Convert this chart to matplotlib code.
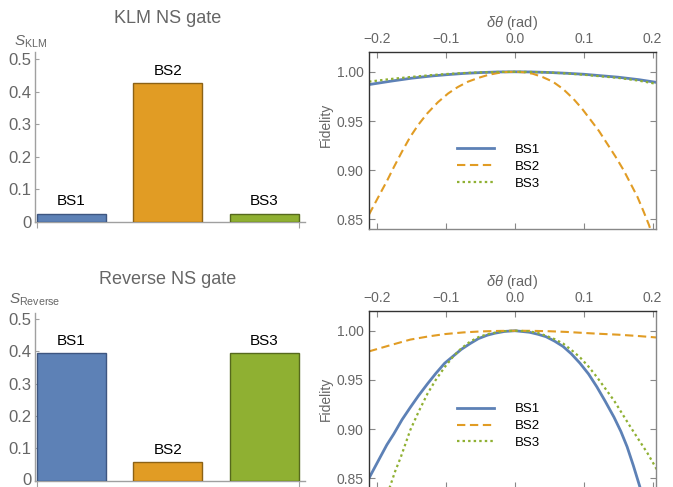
import matplotlib
matplotlib.use("Agg")
import matplotlib.pyplot as plt
from matplotlib.ticker import FixedLocator, FixedFormatter

plt.rcParams['font.family'] = ['Liberation Sans', 'DejaVu Sans']
plt.rcParams['mathtext.fontset'] = 'custom'
plt.rcParams['mathtext.rm'] = 'Liberation Sans'
plt.rcParams['mathtext.it'] = 'Liberation Sans:italic'
plt.rcParams['mathtext.bf'] = 'Liberation Sans:bold'

# ---------------- data ----------------
categories = ["BS1", "BS2", "BS3"]
s_klm = [0.025, 0.426, 0.025]
s_reverse = [0.394, 0.057, 0.394]

bar_yticks = [0, 0.1, 0.2, 0.3, 0.4, 0.5]
bar_yticklabels = ["0", "0.1", "0.2", "0.3", "0.4", "0.5"]
fid_xticks = [-0.2, -0.1, 0.0, 0.1, 0.2]
fid_xticklabels = ["\u22120.2", "\u22120.1", "0.0", "0.1", "0.2"]
fid_yticks = [0.85, 0.90, 0.95, 1.00]
fid_yticklabels = ["0.85", "0.90", "0.95", "1.00"]

# KLM gate fidelity curves
klm_bs1_x = [-0.212, -0.18, -0.15, -0.12, -0.1, -0.075, -0.05, -0.025, 0.0,
             0.025, 0.05, 0.075, 0.1, 0.12, 0.15, 0.18, 0.205]
klm_bs1_y = [0.987, 0.9905, 0.9935, 0.9958, 0.997, 0.9983, 0.9992, 0.9998, 1.0,
             0.9998, 0.9993, 0.9985, 0.9975, 0.9963, 0.9945, 0.992, 0.9893]
klm_bs3_x = [-0.212, -0.18, -0.15, -0.12, -0.1, -0.075, -0.05, -0.025, 0.0,
             0.025, 0.05, 0.075, 0.1, 0.12, 0.15, 0.18, 0.205]
klm_bs3_y = [0.990, 0.9927, 0.9948, 0.9967, 0.9977, 0.9987, 0.9994, 0.9998, 1.0,
             0.9998, 0.9993, 0.9983, 0.997, 0.9957, 0.9938, 0.991, 0.9878]
klm_bs2_x = [-0.212, -0.204, -0.196, -0.186, -0.176, -0.164, -0.152, -0.14, -0.127, -0.112,
             -0.097, -0.083, -0.068, -0.053, -0.038, -0.025, -0.014, 0.0,
             0.013, 0.026, 0.04, 0.055, 0.07, 0.085, 0.097, 0.109, 0.122, 0.134,
             0.146, 0.158, 0.168, 0.178, 0.187, 0.195, 0.205]
klm_bs2_y = [0.855, 0.8655, 0.876, 0.889, 0.903, 0.919, 0.934, 0.9465, 0.958, 0.969,
             0.978, 0.9845, 0.990, 0.9938, 0.997, 0.9987, 0.9997, 1.0,
             0.9995, 0.998, 0.9947, 0.990, 0.9825, 0.9725, 0.963, 0.952, 0.940, 0.927,
             0.914, 0.900, 0.8865, 0.873, 0.858, 0.844, 0.822]

# Reverse gate fidelity curves
rev_bs1_x = [-0.212, -0.204, -0.196, -0.186, -0.176, -0.164, -0.152, -0.14, -0.127, -0.115,
             -0.102, -0.09, -0.078, -0.065, -0.053, -0.04, -0.029, -0.015, 0.0,
             0.021, 0.033, 0.045, 0.0575, 0.070, 0.082, 0.0945, 0.107, 0.119, 0.131,
             0.144, 0.154, 0.163, 0.172, 0.181, 0.19]
rev_bs1_y = [0.850, 0.8605, 0.871, 0.884, 0.895, 0.9095, 0.922, 0.934, 0.946, 0.9565,
             0.967, 0.974, 0.981, 0.987, 0.992, 0.9955, 0.9975, 0.9993, 1.0,
             0.9985, 0.9965, 0.994, 0.9895, 0.984, 0.9765, 0.967, 0.956, 0.943, 0.9285,
             0.912, 0.8975, 0.882, 0.863, 0.8425, 0.820]
rev_bs2_x = [-0.212, -0.18, -0.152, -0.125, -0.102, -0.075, -0.05, -0.025, 0.0,
             0.025, 0.05, 0.075, 0.0945, 0.12, 0.15, 0.18, 0.205]
rev_bs2_y = [0.979, 0.9855, 0.991, 0.9943, 0.9966, 0.9983, 0.9993, 0.9998, 1.0,
             0.9999, 0.9995, 0.9988, 0.998, 0.997, 0.996, 0.9946, 0.9932]
rev_bs3_x = [-0.19, -0.181, -0.174, -0.166, -0.159, -0.152, -0.14, -0.127, -0.115,
             -0.102, -0.09, -0.078, -0.065, -0.053, -0.04, -0.029, -0.015, 0.0,
             0.02, 0.033, 0.045, 0.0575, 0.070, 0.082, 0.0945, 0.107, 0.119, 0.131,
             0.144, 0.156, 0.168, 0.18, 0.193, 0.202, 0.21]
rev_bs3_y = [0.825, 0.8425, 0.857, 0.871, 0.885, 0.899, 0.9175, 0.936, 0.950,
             0.963, 0.9735, 0.982, 0.989, 0.9935, 0.9965, 0.998, 0.9996, 1.0,
             0.9995, 0.9978, 0.995, 0.9915, 0.987, 0.9805, 0.973, 0.9635, 0.953, 0.9415,
             0.929, 0.9155, 0.902, 0.889, 0.875, 0.864, 0.854]

# ---------------- styles ----------------
colors = ["#5d81b6", "#e19c24", "#8fb032"]
edges = ["#3e5680", "#8c6216", "#56691d"]
gray_txt = "#666666"
axis_gray = "#a0a0a0"

W, H = 673, 487
fig = plt.figure(figsize=(W / 100, H / 100), dpi=100)


def ax_rect(left, top, right, bottom):
    return [left / W, 1 - bottom / H, (right - left) / W, (bottom - top) / H]


def bar_panel(rect, values, title, title_base, ylab, ylab_pos):
    ax = fig.add_axes(rect)
    xs = [1, 2, 3]
    ax.bar(xs, values, width=0.715, color=colors, edgecolor=edges, linewidth=1.0, zorder=3)
    for x, v, c in zip(xs, values, categories):
        ax.annotate(c, (x, v), xytext=(0, 4), textcoords="offset points",
                    ha="center", va="bottom", fontsize=11, color="black")
    ax.set_xlim(0.622, 3.42)
    ax.set_ylim(0, 0.52)
    for s in ["top", "right"]:
        ax.spines[s].set_visible(False)
    for s in ["left", "bottom"]:
        ax.spines[s].set_color(axis_gray)
        ax.spines[s].set_linewidth(1.0)
    ax.yaxis.set_major_locator(FixedLocator(bar_yticks))
    ax.yaxis.set_major_formatter(FixedFormatter(bar_yticklabels))
    ax.tick_params(axis="y", direction="in", length=3, width=0.8, color=axis_gray,
                   labelsize=12, labelcolor=gray_txt, pad=2.5)
    ax.set_xticks([0.642, 3.36])
    ax.set_xticklabels([])
    ax.tick_params(axis="x", direction="out", length=4, width=0.8, color=axis_gray)
    fig.text(168 / W, 1 - title_base / H, title, ha="center", va="baseline",
             fontsize=13, color=gray_txt)
    fig.text(ylab_pos[0] / W, 1 - ylab_pos[1] / H, ylab, ha="left", va="baseline",
             fontsize=11, color=gray_txt)
    return ax


def fid_panel(rect, curves, ylab_y, leg_anchor):
    ax = fig.add_axes(rect)
    styles = [dict(ls="-", lw=2.0), dict(ls=(0, (4, 2.2)), lw=1.5), dict(ls=(0, (1.1, 1.4)), lw=1.6)]
    for (x, y), c, st, lab in zip(curves, colors, styles, categories):
        ax.plot(x, y, color=c, label=lab, solid_joinstyle="round", **st)
    ax.set_xlim(-0.212, 0.205)
    ax.set_ylim(0.84, 1.0204)
    ax.xaxis.set_major_locator(FixedLocator(fid_xticks))
    ax.xaxis.set_major_formatter(FixedFormatter(fid_xticklabels))
    ax.yaxis.set_major_locator(FixedLocator(fid_yticks))
    ax.yaxis.set_major_formatter(FixedFormatter(fid_yticklabels))
    ax.tick_params(axis="both", which="both", direction="in", length=4, width=0.8,
                   color="#888888", labelsize=10, labelcolor=gray_txt,
                   top=True, bottom=True, left=True, right=True,
                   labeltop=True, labelbottom=False, pad=4)
    ax.xaxis.set_label_position("top")
    ax.set_xlabel(r"$\delta\theta$ (rad)", fontsize=10.5, color=gray_txt, labelpad=4)
    ax.set_ylabel("Fidelity", fontsize=10, color=gray_txt)
    ax.yaxis.set_label_coords(-0.125, ylab_y)
    ax.spines["left"].set_color("#333333")
    ax.spines["top"].set_color("#333333")
    ax.spines["right"].set_color("#888888")
    ax.spines["bottom"].set_color("#888888")
    for s in ax.spines.values():
        s.set_linewidth(1.0)
    ax.legend(loc="upper left", bbox_to_anchor=leg_anchor, frameon=False, fontsize=9.5,
              handlelength=2.8, handletextpad=1.6, borderpad=0, borderaxespad=0,
              labelspacing=0.35)
    return ax


bar_panel(ax_rect(35, 52.5, 305, 222), s_klm, "KLM NS gate", 23.3,
          r"$S_{\mathrm{KLM}}$", (14, 45.5))
ax_rev = bar_panel(ax_rect(35, 312.5, 305, 480.7), s_reverse, "Reverse NS gate", 283.5,
                   r"$S_{\mathrm{Reverse}}$", (9, 303.3))
# keep the bottom "0" label fully inside the canvas
fig.canvas.draw()
ax_rev.get_yticklabels()[0].set_verticalalignment("center")

fid_panel(ax_rect(369, 51.7, 656, 229.3),
          [(klm_bs1_x, klm_bs1_y), (klm_bs2_x, klm_bs2_y), (klm_bs3_x, klm_bs3_y)],
          0.587, (0.3056, 0.482))
fid_panel(ax_rect(369, 310.7, 656, 488.0),
          [(rev_bs1_x, rev_bs1_y), (rev_bs2_x, rev_bs2_y), (rev_bs3_x, rev_bs3_y)],
          0.505, (0.3056, 0.479))

fig.savefig("out.png", dpi=100)
